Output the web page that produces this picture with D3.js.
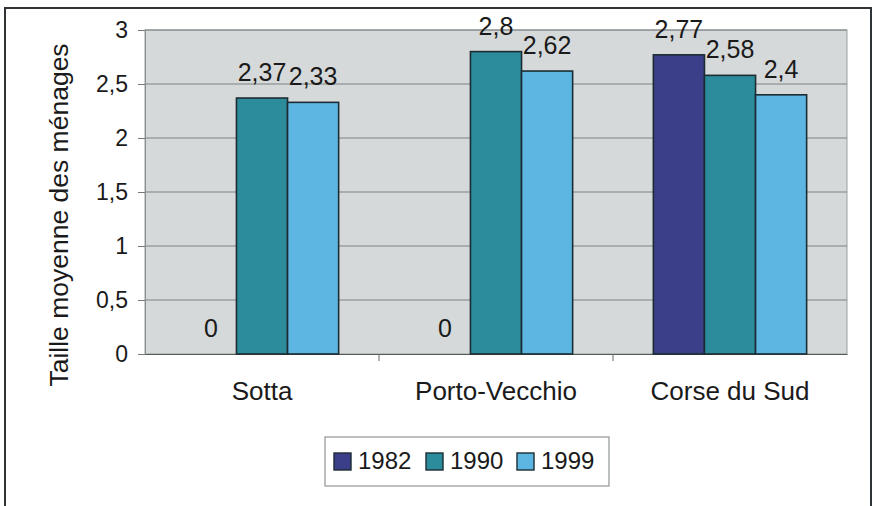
<!DOCTYPE html>
<html>
<head>
<meta charset="utf-8">
<script src="https://cdn.jsdelivr.net/npm/d3@7"></script>
<style>
  body { margin: 0; background: #ffffff; }
  #painting { width: 872px; height: 506px; }
  text { font-family: "Liberation Sans", Arial, sans-serif; fill: #1a1a1a; }
</style>
</head>
<body>
<div id="painting"></div>
<script>
// chart values
var categories = ["Sotta", "Porto-Vecchio", "Corse du Sud"];
var years = ["1982", "1990", "1999"];
var values_1982 = [0, 0, 2.77];
var values_1990 = [2.37, 2.8, 2.58];
var values_1999 = [2.33, 2.62, 2.4];
var y_ticks = [0, 0.5, 1, 1.5, 2, 2.5, 3];
var y_title = "Taille moyenne des ménages";

var colours = ["#3b3e88", "#2d8c9b", "#5db5e2"];

var series = [values_1982, values_1990, values_1999];
var dataset = [];
for (var c = 0; c < categories.length; c++) {
  for (var s = 0; s < years.length; s++) {
    dataset.push({category: categories[c], year: years[s], value: series[s][c], s: s});
  }
}

var fmt = function(v) { return String(v).replace(".", ","); };

var plot = {left: 145, right: 847, top: 30, bottom: 354};

var svg = d3.select("#painting")
  .append("svg")
  .attr("width", 872)
  .attr("height", 506);

// outer frame
svg.append("rect")
  .attr("x", 5).attr("y", 8)
  .attr("width", 866).attr("height", 520)
  .attr("fill", "#ffffff")
  .attr("stroke", "#2e3436")
  .attr("stroke-width", 2);

var xScale = d3.scaleBand()
  .domain(categories)
  .range([plot.left, plot.right]);

var xInner = d3.scaleBand()
  .domain(years)
  .range([0, xScale.bandwidth()])
  .paddingInner(0)
  .paddingOuter(0.79);

var yScale = d3.scaleLinear()
  .domain([0, 3])
  .range([plot.bottom, plot.top]);

// plot background
svg.append("rect")
  .attr("x", plot.left).attr("y", plot.top)
  .attr("width", plot.right - plot.left)
  .attr("height", plot.bottom - plot.top)
  .attr("fill", "#d6d9d9")
  .attr("stroke", "#9a9e9f")
  .attr("stroke-width", 1);

// gridlines
svg.append("g")
  .selectAll("line")
  .data(y_ticks.filter(function(d) { return d > 0; }))
  .enter()
  .append("line")
  .attr("x1", plot.left).attr("x2", plot.right)
  .attr("y1", function(d) { return yScale(d); })
  .attr("y2", function(d) { return yScale(d); })
  .attr("stroke", "#7d8283")
  .attr("stroke-width", 1.2);

// y axis
var yAxis = d3.axisLeft(yScale)
  .tickValues(y_ticks)
  .tickSize(7)
  .tickPadding(10)
  .tickFormat(fmt);

var yg = svg.append("g")
  .attr("transform", "translate(" + plot.left + ",0)")
  .call(yAxis);
yg.select(".domain").attr("stroke", "#8a8f90");
yg.selectAll(".tick line").attr("stroke", "#777");
yg.selectAll("text")
  .attr("font-size", "23px")
  .attr("fill", "#1a1a1a");

// x axis
var xAxis = d3.axisBottom(xScale)
  .tickSize(0)
  .tickPadding(28);

var xg = svg.append("g")
  .attr("transform", "translate(0," + plot.bottom + ")")
  .call(xAxis);
xg.select(".domain").attr("stroke", "#555b5c").attr("stroke-width", 1.2);
xg.selectAll("text")
  .attr("font-size", "26px")
  .attr("fill", "#1a1a1a");

// category separator ticks
svg.append("g")
  .selectAll("line")
  .data(categories.slice(1))
  .enter()
  .append("line")
  .attr("x1", function(d) { return xScale(d); })
  .attr("x2", function(d) { return xScale(d); })
  .attr("y1", plot.bottom).attr("y2", plot.bottom + 7)
  .attr("stroke", "#666");

// bars
svg.append("g")
  .selectAll("rect")
  .data(dataset.filter(function(d) { return d.value > 0; }))
  .enter()
  .append("rect")
  .attr("x", function(d) { return xScale(d.category) + xInner(d.year); })
  .attr("y", function(d) { return yScale(d.value); })
  .attr("width", xInner.bandwidth())
  .attr("height", function(d) { return plot.bottom - yScale(d.value); })
  .attr("fill", function(d) { return colours[d.s]; })
  .attr("stroke", "#1c2c33")
  .attr("stroke-width", 1.6);

// data labels
svg.append("g")
  .selectAll("text")
  .data(dataset)
  .enter()
  .append("text")
  .attr("x", function(d) { return xScale(d.category) + xInner(d.year) + xInner.bandwidth() / 2; })
  .attr("y", function(d) { return yScale(d.value) - 17; })
  .attr("text-anchor", "middle")
  .attr("font-size", "25px")
  .text(function(d) { return fmt(d.value); });

// y title
svg.append("text")
  .attr("transform", "translate(68,215) rotate(-90)")
  .attr("text-anchor", "middle")
  .attr("font-size", "26.5px")
  .text(y_title);

// legend
var legend = svg.append("g").attr("transform", "translate(325,437)");
legend.append("rect")
  .attr("width", 284).attr("height", 49)
  .attr("fill", "#ffffff")
  .attr("stroke", "#8f9495")
  .attr("stroke-width", 1.2);

var item_x = [9, 101, 192];
var items = legend.selectAll("g.item")
  .data(years)
  .enter()
  .append("g")
  .attr("class", "item")
  .attr("transform", function(d, i) { return "translate(" + item_x[i] + ",0)"; });
items.append("rect")
  .attr("x", 0).attr("y", 16)
  .attr("width", 17).attr("height", 17)
  .attr("fill", function(d, i) { return colours[i]; })
  .attr("stroke", "#1c2c33")
  .attr("stroke-width", 1.4);
items.append("text")
  .attr("x", 24).attr("y", 32)
  .attr("font-size", "24px")
  .text(function(d) { return d; });
</script>
</body>
</html>
